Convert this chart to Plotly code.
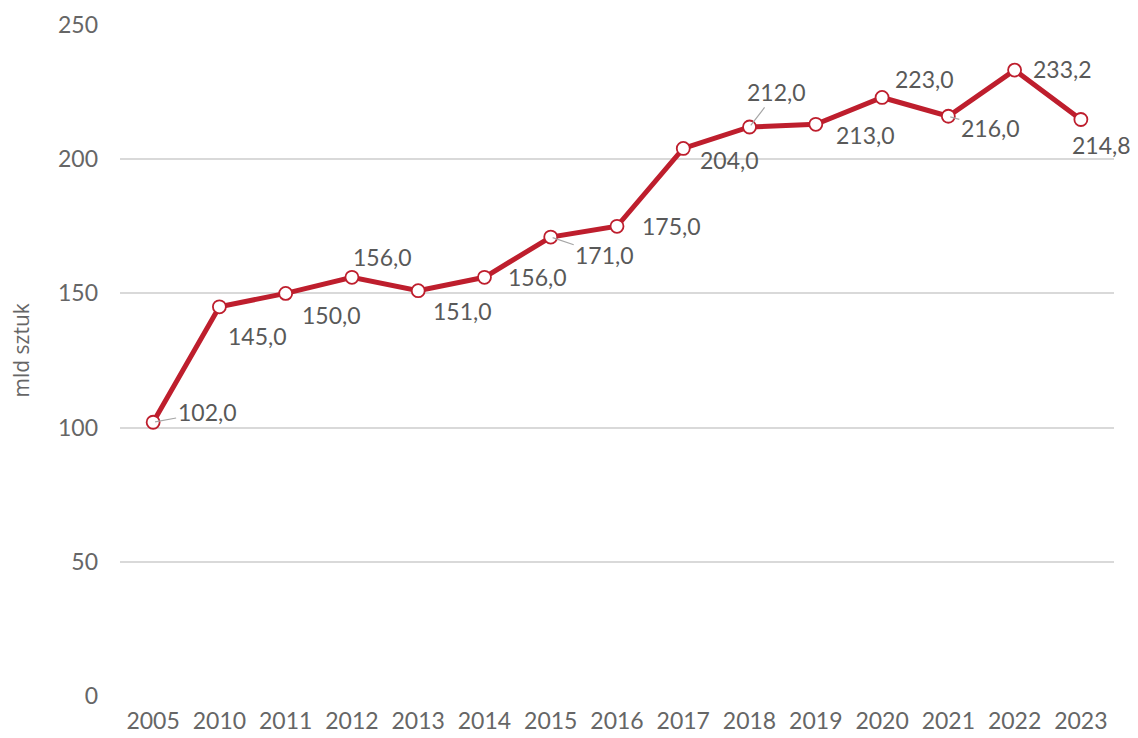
import plotly.graph_objects as go

years = ["2005", "2010", "2011", "2012", "2013", "2014", "2015", "2016",
         "2017", "2018", "2019", "2020", "2021", "2022", "2023"]
values = [102.0, 145.0, 150.0, 156.0, 151.0, 156.0, 171.0, 175.0,
          204.0, 212.0, 213.0, 223.0, 216.0, 233.2, 214.8]
labels = [f"{v:.1f}".replace(".", ",") for v in values]

# label offsets in px (dx, dy; dy positive = down), and whether a leader line is drawn
offsets = [(54, -10, True), (38, 29, False), (46, 22, False), (31, -20, False),
           (44, 20, False), (53, 0, False), (54, 18, True), (54, 0, False),
           (46, 12, False), (27, -35, True), (50, 11, False), (42, -18, False),
           (42, 12, True), (48, -1, False), (21, 26, False)]

red = "#BE1E2D"
fig = go.Figure()
fig.add_trace(go.Scatter(
    x=years, y=values, mode="lines+markers",
    line=dict(color=red, width=5),
    marker=dict(size=13, color="white", line=dict(color=red, width=1.8)),
    cliponaxis=False, hoverinfo="skip"))

# category axis: annotations are placed by category index
for i, (v, lab, (dx, dy, lead)) in enumerate(zip(values, labels, offsets)):
    if lead:
        fig.add_annotation(x=i, y=v, text=lab, showarrow=True, arrowhead=0,
                           arrowwidth=1.2, arrowcolor="#A6A6A6", ax=dx, ay=dy,
                           standoff=2, font=dict(size=23, color="#595959"))
    else:
        fig.add_annotation(x=i, y=v, text=lab, showarrow=False,
                           xshift=dx, yshift=-dy,
                           font=dict(size=23, color="#595959"))

# y axis title
fig.add_annotation(x=0, y=0.5, xref="paper", yref="paper", text="mld sztuk",
                   textangle=-90, showarrow=False, xshift=-116, yshift=10,
                   font=dict(family="Open Sans, sans-serif", size=21, color="#666666"))

fig.update_layout(
    width=1130, height=730,
    margin=dict(l=112, r=24, t=17, b=42, autoexpand=False),
    plot_bgcolor="white", paper_bgcolor="white",
    font=dict(family="Lato, Open Sans, sans-serif", color="#666666"),
    showlegend=False,
    xaxis=dict(type="category", range=[-0.5, 14.5], showgrid=False,
               showline=False, zeroline=False, ticks="", ticklabelstandoff=9,
               tickfont=dict(size=23, color="#666666")),
    yaxis=dict(range=[0, 250], dtick=50, showgrid=True, gridcolor="#D9D9D9",
               gridwidth=1.5, zeroline=False, showline=False, ticks="",
               ticklabelstandoff=21,
               tickfont=dict(size=23, color="#666666")),
)

fig.write_html("out.html")
